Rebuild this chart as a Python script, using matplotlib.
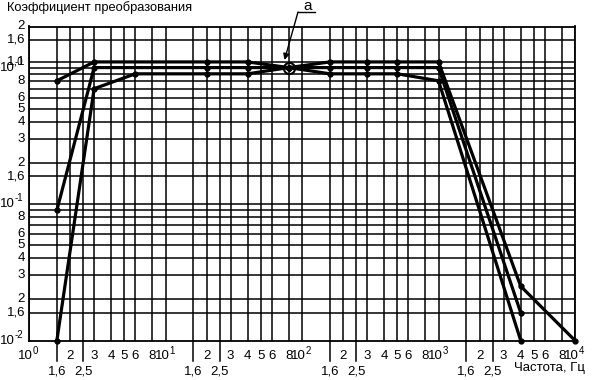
import matplotlib.pyplot as plt
from matplotlib.lines import Line2D
from matplotlib.transforms import offset_copy

plt.rcParams['font.family'] = ['Liberation Sans', 'DejaVu Sans']
plt.rcParams['font.size'] = 9

# Данные (частота, Гц / коэффициент преобразования)
freq_up = [1.6, 3, 20, 40, 80, 160, 300, 500, 1000, 4000, 10000]
k_up = [0.8, 1.1, 1.1, 1.1, 1.0, 1.1, 1.1, 1.1, 1.1, 0.025, 0.01]
freq_mid = [1.6, 3, 20, 40, 80, 160, 300, 500, 1000, 4000]
k_mid = [0.09, 1.0, 1.0, 1.0, 1.0, 1.0, 1.0, 1.0, 1.0, 0.016]
freq_low = [1.6, 3, 6, 20, 40, 80, 160, 300, 500, 1000, 4000]
k_low = [0.01, 0.7, 0.9, 0.9, 0.9, 1.0, 0.9, 0.9, 0.9, 0.8, 0.01]
point_a = (80, 1.0)

# Сетка и подписи осей
x_grid = [m * 10**d for d in range(4) for m in [1, 1.6, 2, 2.5, 3, 4, 5, 6, 8]] + [1e4]
x_decades = [1, 10, 100, 1000, 10000]
x_dec_exp = ['0', '1', '2', '3', '4']
x_ticks_top = [m * 10**d for d in range(4) for m in [2, 3, 4, 5, 6, 8]]
x_labels_top = ['2', '3', '4', '5', '6', '8'] * 4
x_ticks_low = [m * 10**d for d in range(4) for m in [1.6, 2.5]]
x_labels_low = ['1,6', '2,5'] * 4

y_grid = [1.6, 1.1, 1, .9, .8, .7, .6, .5, .4, .3, .2, .16,
          .1, .09, .08, .07, .06, .05, .04, .03, .02, .016]
y_ticks = [2, 1.6, 1.1, .8, .6, .5, .4, .3, .2, .16,
           .08, .06, .05, .04, .03, .02, .016]
y_labels = ['2', '1,6', '1,1', '8', '6', '5', '4', '3', '2', '1,6',
            '8', '6', '5', '4', '3', '2', '1,6']
y_decades = [1, 0.1, 0.01]
y_dec_exp = ['-0', '-1', '-2']

fig = plt.figure(figsize=(5.92, 3.8), dpi=100)
ax = fig.add_axes([29 / 592, 1 - 340.5 / 380, 546 / 592, 314 / 380])
ax.set_xscale('log')
ax.set_yscale('log')
ax.set_xlim(1, 1e4)
ax.set_ylim(0.01, 2)
ax.set_xticks([])
ax.set_yticks([])
ax.minorticks_off()
for s in ax.spines.values():
    s.set_linewidth(1.3)

for x in x_grid:
    ax.axvline(x, color='k', lw=1.1, zorder=1)
for y in y_grid:
    ax.axhline(y, color='k', lw=1.1, zorder=1)

# удлинённые риски 1,6 и 2,5
xt = ax.get_xaxis_transform()
for x in x_ticks_low:
    ax.plot([x, x], [0, -0.065], color='k', lw=1.1, transform=xt, clip_on=False)

fs = 9.5
for x, lab in zip(x_ticks_top, x_labels_top):
    ax.text(x, -0.048, lab, transform=xt, ha='center', va='center', fontsize=fs)
for x, lab in zip(x_ticks_low, x_labels_low):
    ax.text(x, -0.1, lab, transform=xt, ha='center', va='center', fontsize=fs)
xt_base = offset_copy(xt, fig=fig, x=4, y=0, units='dots')
xt_sup = offset_copy(xt, fig=fig, x=4, y=5, units='dots')
for x, e in zip(x_decades, x_dec_exp):
    ax.text(x, -0.048, '10', transform=xt_base, ha='right', va='center', fontsize=fs)
    ax.text(x, -0.048, e, transform=xt_sup, ha='left', va='center', fontsize=7)

yt = ax.get_yaxis_transform()
for y, lab in zip(y_ticks, y_labels):
    ax.text(-0.007, y, lab, transform=yt, ha='right', va='center', fontsize=fs)
yt_sup = offset_copy(yt, fig=fig, x=0, y=6, units='dots')
for y, e in zip(y_decades, y_dec_exp):
    ax.text(-0.026, y, '10', transform=yt, ha='right', va='center', fontsize=fs)
    ax.text(-0.0265, y, e, transform=yt_sup, ha='left', va='center', fontsize=7)

for f, k in [(freq_up, k_up), (freq_mid, k_mid), (freq_low, k_low)]:
    ax.plot(f, k, color='k', lw=2.3, marker='o', ms=3.5, zorder=3, clip_on=False)

ax.plot(*point_a, marker='o', ms=8, mfc='none', mec='k', mew=1.5, zorder=4)

fig.text(7 / 592, 1 - 8 / 380, 'Коэффициент преобразования', ha='left', va='center', fontsize=9.3)
fig.text(549 / 592, 1 - 368 / 380, 'Частота, Гц', ha='center', va='center', fontsize=fs)

fig.text(307.5 / 592, 1 - 10 / 380, 'a', ha='center', va='baseline', fontsize=11)
fig.add_artist(Line2D([298 / 592, 315 / 592], [1 - 12 / 380, 1 - 12 / 380], color='k', lw=1))
ax.annotate('', xy=(284.5, 380 - 60), xycoords='figure pixels',
            xytext=(298, 380 - 12), textcoords='figure pixels',
            arrowprops=dict(arrowstyle='-|>', lw=1, color='k', mutation_scale=9, shrinkA=0, shrinkB=0))

fig.savefig('out.png', dpi=100)
